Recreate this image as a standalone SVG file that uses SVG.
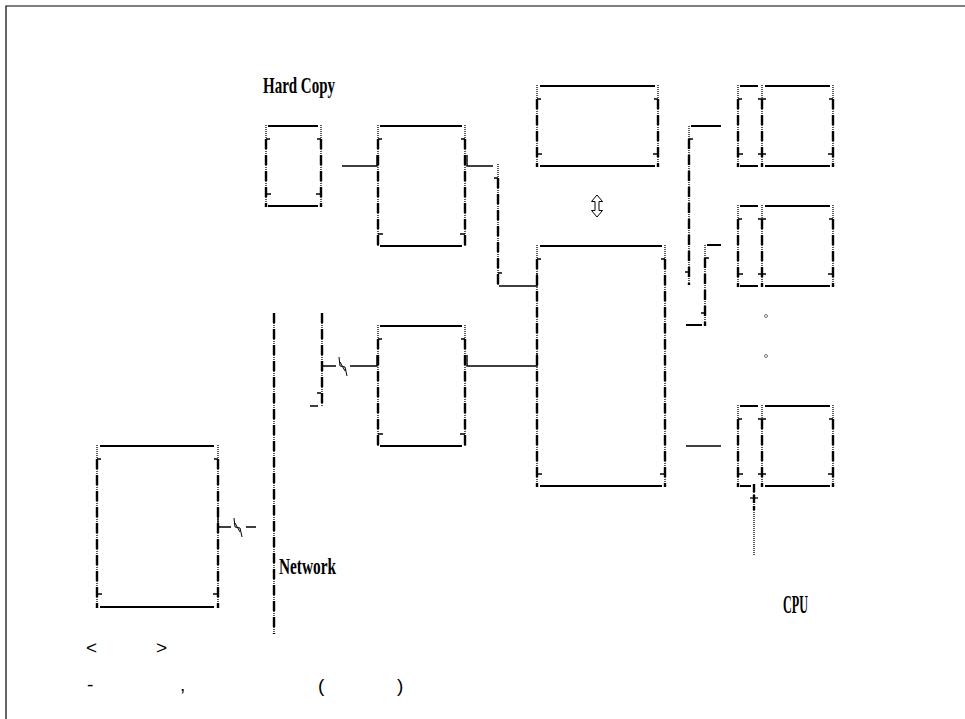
<svg xmlns="http://www.w3.org/2000/svg" width="965" height="719" viewBox="0 0 965 719">
<defs>
<style>
.bg{fill:#fff}
.frame{stroke:#000;stroke-width:1.2;fill:none}
.h{stroke:#000;stroke-width:2;fill:none}
.eg{stroke:#5a5a5a;stroke-width:2;fill:none;stroke-dasharray:1 1}
.ed{stroke:#000;stroke-width:2.4;fill:none;stroke-dasharray:10 6}
.tk{stroke:#000;stroke-width:1.3;fill:none}
.c{stroke:#000;stroke-width:1.4;fill:none}
.z{stroke:#000;stroke-width:1;fill:none}
.lbl{font-family:"Liberation Serif","DejaVu Serif",serif;font-weight:bold;fill:#000}
.p{font-family:"Liberation Sans","DejaVu Sans",sans-serif;font-size:19px;fill:#000}
.dot{fill:none;stroke:#777;stroke-width:1}
</style>
</defs>
<rect class="bg" x="0" y="0" width="965" height="719"/>
<path class="frame" d="M6,719 V6 H965"/>

<g id="box-hardcopy">
<line class="h" x1="268" y1="126" x2="318" y2="126"/>
<line class="h" x1="268" y1="206" x2="318" y2="206"/>
<line class="eg" x1="266" y1="125" x2="266" y2="207"/><line class="ed" x1="266" y1="139" x2="266" y2="207"/>
<line class="eg" x1="321" y1="125" x2="321" y2="207"/><line class="ed" x1="321" y1="139" x2="321" y2="207"/>
<path class="tk" d="M266,139 H270 M321,139 H317 M271,194 H266 M316,194 H321"/>
</g>

<g id="box-b">
<line class="h" x1="380" y1="126" x2="462" y2="126"/>
<line class="h" x1="380" y1="246" x2="462" y2="246"/>
<line class="eg" x1="378" y1="125" x2="378" y2="247"/><line class="ed" x1="378" y1="139" x2="378" y2="247"/>
<line class="eg" x1="465" y1="125" x2="465" y2="247"/><line class="ed" x1="465" y1="139" x2="465" y2="247"/>
<path class="tk" d="M378,139 H382 M465,139 H461 M383,234 H378 M460,234 H465"/>
</g>

<g id="box-c">
<line class="h" x1="540" y1="86" x2="655" y2="86"/>
<line class="h" x1="540" y1="166" x2="655" y2="166"/>
<line class="eg" x1="537" y1="85" x2="537" y2="167"/><line class="ed" x1="537" y1="99" x2="537" y2="167"/>
<line class="eg" x1="658" y1="85" x2="658" y2="167"/><line class="ed" x1="658" y1="99" x2="658" y2="167"/>
<path class="tk" d="M537,99 H541 M658,99 H654 M542,154 H537 M653,154 H658"/>
</g>

<g id="box-d">
<line class="h" x1="540" y1="246" x2="662" y2="246"/>
<line class="h" x1="540" y1="486" x2="662" y2="486"/>
<line class="eg" x1="537" y1="245" x2="537" y2="487"/><line class="ed" x1="537" y1="259" x2="537" y2="487"/>
<line class="eg" x1="665" y1="245" x2="665" y2="487"/><line class="ed" x1="665" y1="259" x2="665" y2="487"/>
<path class="tk" d="M537,259 H541 M665,259 H661 M542,474 H537 M660,474 H665"/>
</g>

<g id="box-f">
<line class="h" x1="380" y1="326" x2="462" y2="326"/>
<line class="h" x1="380" y1="446" x2="462" y2="446" stroke="#444"/>
<line class="eg" x1="378" y1="325" x2="378" y2="447"/><line class="ed" x1="378" y1="339" x2="378" y2="447"/>
<line class="eg" x1="465" y1="325" x2="465" y2="447"/><line class="ed" x1="465" y1="339" x2="465" y2="447"/>
<path class="tk" d="M378,339 H382 M465,339 H461 M383,434 H378 M460,434 H465"/>
</g>

<g id="box-g">
<line class="h" x1="100" y1="446" x2="214" y2="446" stroke-width="1.5"/>
<line class="h" x1="100" y1="607" x2="214" y2="607"/>
<line class="eg" x1="97" y1="445" x2="97" y2="608"/><line class="ed" x1="97" y1="459" x2="97" y2="608"/>
<line class="eg" x1="218" y1="445" x2="218" y2="608"/><line class="ed" x1="218" y1="459" x2="218" y2="608"/>
<path class="tk" d="M97,459 H101 M218,459 H214 M102,594 H97 M213,594 H218"/>
</g>

<g id="box-e1">
<line class="h" x1="740" y1="86" x2="758" y2="86"/><line class="h" x1="765" y1="86" x2="830" y2="86"/>
<line class="h" x1="740" y1="166" x2="758" y2="166"/><line class="h" x1="765" y1="166" x2="830" y2="166"/>
<line class="eg" x1="738" y1="85" x2="738" y2="167"/><line class="ed" x1="738" y1="99" x2="738" y2="167"/>
<line class="eg" x1="762" y1="85" x2="762" y2="167"/><line class="ed" x1="762" y1="99" x2="762" y2="167"/>
<line class="eg" x1="833" y1="85" x2="833" y2="167"/><line class="ed" x1="833" y1="99" x2="833" y2="167"/>
<path class="tk" d="M738,99 H742 M758,99 H766 M833,99 H829 M743,154 H738 M758,154 H766 M828,154 H833"/>
</g>

<g id="box-e2">
<line class="h" x1="740" y1="206" x2="758" y2="206"/><line class="h" x1="765" y1="206" x2="830" y2="206"/>
<line class="h" x1="740" y1="286" x2="758" y2="286"/><line class="h" x1="765" y1="286" x2="830" y2="286"/>
<line class="eg" x1="738" y1="205" x2="738" y2="287"/><line class="ed" x1="738" y1="219" x2="738" y2="287"/>
<line class="eg" x1="762" y1="205" x2="762" y2="287"/><line class="ed" x1="762" y1="219" x2="762" y2="287"/>
<line class="eg" x1="833" y1="205" x2="833" y2="287"/><line class="ed" x1="833" y1="219" x2="833" y2="287"/>
<path class="tk" d="M738,219 H742 M758,219 H766 M833,219 H829 M743,274 H738 M758,274 H766 M828,274 H833"/>
</g>

<g id="box-e3">
<line class="h" x1="740" y1="406" x2="758" y2="406"/><line class="h" x1="765" y1="406" x2="830" y2="406"/>
<line class="h" x1="740" y1="486" x2="751" y2="486"/><line class="h" x1="765" y1="486" x2="830" y2="486"/>
<line class="eg" x1="738" y1="405" x2="738" y2="487"/><line class="ed" x1="738" y1="419" x2="738" y2="487"/>
<line class="eg" x1="762" y1="405" x2="762" y2="487"/><line class="ed" x1="762" y1="419" x2="762" y2="487"/>
<line class="eg" x1="833" y1="405" x2="833" y2="487"/><line class="ed" x1="833" y1="419" x2="833" y2="487"/>
<path class="tk" d="M738,419 H742 M758,419 H766 M833,419 H829 M743,474 H738 M758,474 H766 M828,474 H833"/>
</g>

<g id="network">
<line class="eg" x1="274" y1="313" x2="274" y2="634"/><line class="ed" x1="274" y1="313" x2="274" y2="634"/>
<text class="lbl" x="279" y="574" font-size="24" textLength="57" lengthAdjust="spacingAndGlyphs">Network</text>
</g>

<g id="labels">
<text class="lbl" x="263" y="93" font-size="24" textLength="72" lengthAdjust="spacingAndGlyphs">Hard Copy</text>
<text class="lbl" x="783" y="613" font-size="26" textLength="25" lengthAdjust="spacingAndGlyphs">CPU</text>
<circle class="dot" cx="766" cy="316" r="1.5"/>
<circle class="dot" cx="766" cy="356" r="1.5"/>
<text class="p" x="86" y="654">&lt;</text>
<text class="p" x="156" y="654">&gt;</text>
<text class="p" x="87" y="691">-</text>
<text class="p" x="180" y="691">,</text>
<text class="p" x="318" y="692">(</text>
<text class="p" x="397" y="692">)</text>
</g>

<g id="connectors">
<path class="z" d="M597,195 L602.5,201.5 L599,201.5 L599,210.5 L602.5,210.5 L597,217 L591.5,210.5 L595,210.5 L595,201.5 L591.5,201.5 Z"/>
<path class="c" d="M342,166 H377 V155"/>
<path class="c" d="M467,155 V166 H493"/>
<line class="eg" x1="498" y1="164" x2="498" y2="286"/><line class="ed" x1="498" y1="178" x2="498" y2="286"/>
<path class="tk" d="M498,178 H494 M502,273 H498"/>
<path class="c" d="M499,286 H537 V273"/>
<path class="c" d="M467,355 V366 H537 V353"/>
<line class="eg" x1="322" y1="313" x2="322" y2="406"/><line class="ed" x1="322" y1="313" x2="322" y2="406"/>
<path class="c" d="M322,366 H336 M350,366 H377 V355"/>
<path class="z" d="M339,357 L340,366 L345,367 L347,376 M340,362 L345,371" stroke-width="1.2"/>
<path class="tk" d="M310,406 H318 M317,393 H321" stroke-width="1.8"/>
<path class="c" d="M218,514 V527 H231 M246,527 H256"/>
<path class="z" d="M234,518 L235,527 L240,528 L242,537 M235,523 L240,532" stroke-width="1.2"/>
<line class="eg" x1="689" y1="126" x2="689" y2="285"/><line class="ed" x1="689" y1="139" x2="689" y2="285"/>
<path class="h" d="M691,126 H721"/>
<path class="tk" d="M689,139 H693 M685,272 H689"/>
<path class="h" d="M686,325 H702"/>
<line class="eg" x1="705" y1="245" x2="705" y2="326"/><line class="ed" x1="705" y1="258" x2="705" y2="326"/>
<path class="h" d="M707,245 H721"/>
<path class="tk" d="M705,258 H709 M701,313 H705"/>
<path class="c" d="M686,446 H721"/>
<line class="eg" x1="754" y1="484" x2="754" y2="555"/><line class="ed" x1="754" y1="484" x2="754" y2="510" style="stroke-dasharray:8 3"/>
<path class="tk" d="M750,498 H758"/>
</g>
</svg>
